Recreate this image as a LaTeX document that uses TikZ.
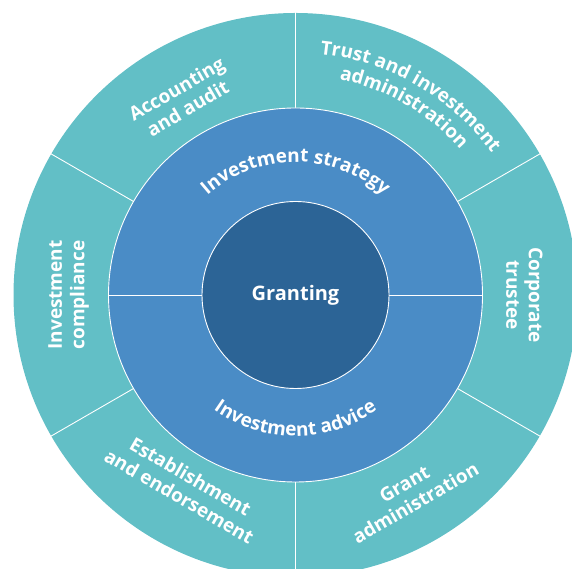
\documentclass[tikz,border=0pt]{standalone}
\usepackage{fontspec}
\setmainfont{Open Sans}
\usetikzlibrary{decorations.text}
\definecolor{outerteal}{RGB}{98,191,198}
\definecolor{midblue}{RGB}{74,140,198}
\definecolor{innerblue}{RGB}{44,100,150}
\newcommand\lblf{\fontsize{19}{22.5}\selectfont\bfseries}
\begin{document}
\begin{tikzpicture}[x=1pt,y=1pt,
  lbl/.style={text=white,font=\lblf,align=center,inner sep=0pt},
  sep/.style={draw=white,line width=0.9pt},
  curv/.style={decorate,decoration={text along path,text align=center,text color=white,text={|\lblf|#1}}}]
\useasboundingbox (0,0) rectangle (572,569);
\clip (0,0) rectangle (572,569);
\coordinate (c) at (295.5,274);
% outer ring
\fill[outerteal] (c) circle[radius=282];
\foreach \a in {30,90,150,210,270,330}
  \draw[sep] ([shift={(\a:187)}]c) -- ([shift={(\a:284)}]c);
% middle ring
\filldraw[fill=midblue,sep] (c) circle[radius=187];
\draw[sep] ([shift={(180:187)}]c) -- ([shift={(180:93.5)}]c);
\draw[sep] ([shift={(0:93.5)}]c) -- ([shift={(0:187)}]c);
% inner circle
\filldraw[fill=innerblue,sep] (c) circle[radius=93.5];
\node[lbl,font=\fontsize{20}{24}\selectfont\bfseries] (granting) at (c) {Granting};
% middle ring texts
\path[curv={Investment strategy}] ([shift={(140:133)}]c) arc[start angle=140,end angle=40,radius=133];
\path[curv={Investment advice}] ([shift={(210:141)}]c) arc[start angle=210,end angle=330,radius=141];
% outer texts
\path[curv={Trust and investment}] ([shift={(100:242)}]c) arc[start angle=100,end angle=20,radius=242];
\path[curv={administration}] ([shift={(95:220)}]c) arc[start angle=95,end angle=25,radius=220];
\node[lbl,rotate=30] (acc) at ([shift={(120:227)}]c) {Accounting\\and audit};
\node[lbl,rotate=90] (comp) at ([shift={(180:227)}]c) {Investment\\compliance};
\node[lbl,rotate=-90] (corp) at ([shift={(0:229)}]c) {Corporate\\trustee};
\node[lbl,rotate=-30] (est) at ([shift={(240:221)}]c) {Establishment\\and endorsement};
\node[lbl,rotate=30] (grant) at ([shift={(300:229)}]c) {Grant\\administration};
\end{tikzpicture}
\end{document}
